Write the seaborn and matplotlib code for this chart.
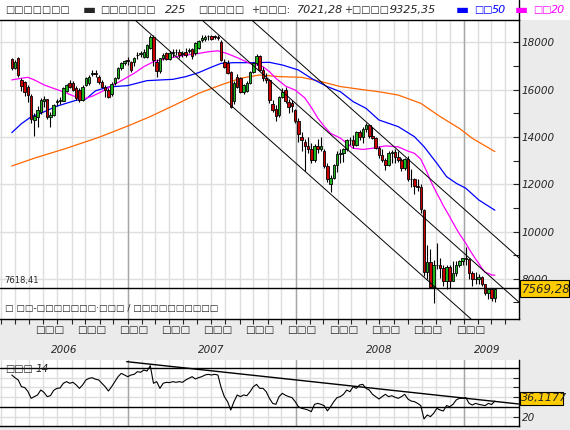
import numpy as np
import pandas as pd
import matplotlib
matplotlib.use("Agg")
import matplotlib.pyplot as plt
import matplotlib.dates as mdates
import matplotlib.transforms as mtransforms
from matplotlib.patches import Rectangle
from matplotlib.lines import Line2D
import seaborn as sns

# weekly candles, first one is the week starting Monday 2006-04-24
first_week = "2006-04-24"

opens = [17290, 16906, 17330, 16420, 16330, 16120, 15730, 14720, 14830, 15070,
         15500, 15590, 14845, 14940, 15480, 15530, 15533, 15950, 16266, 16266,
         16055, 15984, 15561, 16196, 16266, 16650, 16700, 16548, 16337, 16125,
         15984, 15800, 16266, 16477, 16900, 17111, 17250, 17182, 17182, 17450,
         17520, 17393, 17393, 17745, 18238, 17182, 16800, 17323, 17534, 17300,
         17540, 17600, 17604, 17500, 17604, 17650, 17703, 17534, 17745, 18100,
         18126, 18260, 18250, 18260, 18238, 18027, 17182, 17111, 16759, 15500,
         16548, 16477, 15914, 15950, 16266, 16759, 17111, 17421, 16830, 16477,
         16400, 15393, 15180, 14927, 15702, 16000, 15491, 15420, 15156, 14691,
         14000, 13800, 13629, 13497, 13017, 13622, 13500, 13400, 12782, 12000,
         12260, 12820, 13293, 13323, 13476, 13863, 13849, 13655, 14219, 14013,
         14338, 14489, 14051, 13942, 13544, 13237, 13039, 12803, 13334, 13376,
         13168, 13019, 12666, 13072, 12213, 12215, 11920, 11893, 10900, 8276,
         8693, 7649, 8577, 8583, 8462, 7910, 8512, 7917, 8235, 8588,
         8739, 8860, 8836, 8230, 7990, 7994, 8076, 7779, 7416, 7568,
         7173]
highs = [17340, 17250, 17380, 16500, 16380, 16200, 15800, 15000, 15300, 15630,
         15720, 15620, 15050, 15400, 15620, 15680, 16120, 16250, 16400, 16380,
         16150, 16050, 16200, 16550, 16600, 16850, 16820, 16620, 16400, 16200,
         16050, 16320, 16520, 16950, 17150, 17260, 17360, 17230, 17400, 17600,
         17650, 17700, 17950, 18300, 18300, 17300, 17350, 17550, 17600, 17650,
         17700, 17720, 17700, 17620, 17750, 17780, 17750, 18000, 18100, 18300,
         18297, 18320, 18320, 18330, 18300, 18100, 17300, 17250, 16800, 16350,
         16650, 16550, 16250, 16350, 16800, 17150, 17500, 17450, 16950, 16700,
         16450, 15550, 15350, 15750, 16055, 16100, 15600, 15560, 15200, 14800,
         14200, 13900, 14000, 13750, 13700, 13900, 14000, 13500, 12900, 12400,
         12850, 13400, 13500, 13550, 13900, 14000, 14100, 14250, 14300, 14400,
         14601, 14500, 14400, 14000, 13600, 13500, 13100, 13400, 13450, 13500,
         13400, 13100, 13100, 13200, 12650, 12250, 12200, 12000, 10950, 9447,
         9250, 8800, 9521, 8900, 8600, 8600, 8600, 8750, 8750, 8800,
         8900, 9325, 8900, 8350, 8300, 8200, 8100, 7800, 7600, 7600,
         7600]
lows = [16850, 16880, 16540, 15950, 15720, 15490, 14600, 14045, 14430, 14950,
        15250, 14750, 14437, 14880, 15300, 15400, 15500, 15880, 16050, 15950,
        15550, 15480, 15530, 16150, 16200, 16560, 16550, 16250, 16050, 15700,
        15650, 15720, 16200, 16450, 16850, 17050, 17050, 16750, 16980, 17280,
        17400, 17350, 17350, 17720, 17000, 16532, 16700, 17250, 17250, 17250,
        17400, 17450, 17350, 17380, 17400, 17550, 17300, 17480, 17700, 18000,
        18050, 18100, 18100, 18120, 18100, 17200, 16900, 16650, 15210, 15400,
        16050, 15850, 15800, 15900, 16250, 16700, 17050, 16800, 16350, 16300,
        15450, 15050, 14669, 14850, 15650, 15450, 15000, 15050, 14600, 13800,
        13400, 12573, 13300, 12900, 12950, 13300, 13400, 12700, 12100, 11691,
        12200, 12500, 12900, 12950, 13400, 13650, 13550, 13600, 13850, 13750,
        14200, 13950, 13900, 13500, 13100, 12950, 12600, 12750, 12900, 12900,
        12950, 12550, 12600, 12150, 11900, 11600, 11700, 10800, 8115, 8000,
        7600, 6995, 8400, 8050, 7700, 7550, 7600, 7900, 8100, 8500,
        8600, 8600, 8000, 7700, 7800, 7800, 7700, 7300, 7150, 7050,
        7021]
closes = [16906, 17153, 16601, 16150, 15920, 15780, 14750, 14880, 15140, 15560,
          15590, 14845, 14940, 15350, 15530, 15565, 16083, 16196, 16125, 15984,
          15632, 15561, 16125, 16477, 16548, 16689, 16680, 16337, 16125, 15984,
          15702, 16250, 16477, 16900, 17111, 17226, 17200, 16830, 17323, 17464,
          17534, 17604, 17886, 18238, 17252, 16800, 17323, 17480, 17300, 17550,
          17600, 17580, 17464, 17534, 17464, 17675, 17421, 17957, 18069, 18168,
          18238, 18267, 18140, 18238, 18200, 17252, 16970, 16689, 15280, 16300,
          16125, 15914, 16196, 16300, 16759, 17111, 17421, 16830, 16477, 16400,
          15561, 15139, 14900, 15702, 15914, 15514, 15250, 15307, 14691, 14110,
          13861, 13629, 13497, 13017, 13622, 13500, 13603, 12782, 12241, 12260,
          12820, 13293, 13323, 13476, 13863, 13849, 13655, 14219, 14013, 14338,
          14489, 14051, 13942, 13544, 13237, 13039, 12803, 13334, 13376, 13168,
          13019, 12666, 13072, 12213, 12215, 11920, 11893, 10938, 8276, 8693,
          7649, 8577, 8583, 8462, 7910, 8512, 7917, 8235, 8588, 8739,
          8860, 8836, 8230, 7990, 7994, 8076, 7779, 7416, 7568, 7173,
          7569]

# moving averages (week number, value)
ma20_wk = [0, 3, 5, 7, 10, 13, 16, 19, 22, 25, 28, 31, 34, 38, 41, 44, 47, 50, 54, 58,
           61, 64, 67, 70, 74, 78, 80, 82, 85, 88, 91, 93, 95, 97, 99, 102, 106, 109, 112, 116,
           120, 123, 125, 127, 128, 129, 130, 131, 132, 133, 134, 135, 136, 137, 138, 139, 140,
           141, 142, 143, 144, 145, 146, 147, 148, 149, 150]
ma20_val = [16410, 16480, 16520, 16410, 16200, 16050, 15910, 15740, 15590, 15720, 15920, 16150,
            16380, 16690, 16970, 17180, 17280, 17360, 17460, 17530, 17600, 17640, 17520, 17350,
            17110, 16970, 16760, 16480, 16150, 15980, 15650, 15250, 14800, 14450, 14150, 13950,
            13520, 13470, 13520, 13620, 13580, 13400, 13310, 13060, 12780, 12490, 12150, 11880,
            11610, 11360, 11090, 10860, 10620, 10370, 10130, 9900, 9700, 9500, 9260, 9050, 8840,
            8650, 8440, 8270, 8230, 8160, 8150]
ma50_wk = [0, 3, 6, 9, 14, 20, 23, 26, 30, 36, 42, 50, 54, 58, 62, 65, 69, 75, 80, 84,
           89, 93, 98, 102, 106, 110, 114, 120, 125, 128, 132, 135, 138, 141, 145, 150]
ma50_val = [14180, 14560, 14850, 15000, 15300, 15550, 15600, 15950, 16110, 16170, 16380, 16435,
            16548, 16717, 16950, 17111, 17139, 17139, 17154, 17041, 16830, 16477, 16125, 15914,
            15491, 15209, 14716, 14434, 14012, 13589, 12884, 12321, 12039, 11828, 11335, 10900]
ma_long_wk = [0, 7, 17, 27, 36, 43, 50, 58, 65, 71, 77, 83, 90, 96, 102, 110, 114, 120,
              127, 133, 139, 143, 150]
ma_long_val = [12770, 13100, 13520, 13980, 14460, 14860, 15310, 15840, 16200, 16480, 16620,
               16550, 16520, 16340, 16130, 15980, 15910, 15770, 15420, 14860, 14360, 13940, 13380]

rsi = [62.8, 60.0, 57.7, 50.8, 50.0, 46.0, 38.9, 40.6, 42.3, 47.4,
       45.0, 40.6, 41.6, 47.0, 49.1, 49.5, 54.3, 56.0, 54.3, 55.3,
       52.6, 49.1, 52.6, 57.7, 59.4, 60.0, 58.5, 57.7, 54.3, 50.8,
       46.4, 50.8, 56.0, 61.1, 64.5, 62.8, 61.1, 62.8, 63.5, 66.2,
       65.6, 67.9, 66.9, 72.4, 54.3, 56.0, 49.1, 54.3, 55.3, 55.0,
       56.0, 55.3, 56.0, 55.3, 57.7, 59.4, 61.1, 58.7, 60.1, 61.1,
       62.8, 63.5, 62.8, 63.5, 62.8, 50.0, 40.6, 35.5, 26.9, 35.5,
       42.3, 40.6, 42.3, 41.6, 45.7, 50.8, 53.2, 49.1, 49.1, 45.7,
       38.9, 33.7, 32.7, 40.6, 44.0, 42.0, 40.6, 39.6, 35.5, 30.3,
       28.6, 27.9, 26.9, 25.2, 32.7, 33.7, 32.7, 31.4, 26.0, 30.3,
       35.5, 39.6, 40.6, 43.0, 47.4, 45.7, 50.8, 49.1, 52.6, 53.2,
       49.1, 47.4, 43.0, 40.6, 38.2, 40.6, 43.0, 40.6, 41.6, 40.0,
       38.9, 40.6, 43.0, 38.2, 36.1, 35.5, 33.7, 31.4, 17.7, 21.8,
       20.1, 23.5, 28.6, 26.9, 25.9, 31.4, 30.3, 32.7, 37.2, 38.9,
       38.9, 39.6, 33.7, 32.0, 33.7, 32.7, 32.0, 31.4, 33.7, 32.5,
       36.1177]

# hand-drawn channel lines: (week, price) -> (week, price)
channel = [((74.5, 18943), (157.5, 8884)),
           ((38.25, 18943), (142.6, 6300)),
           ((59.06, 18943), (157.5, 7012))]
rsi_trend = ((35.7, 76.5), (157.3, 33.1))
level = 7618.41

GREEN = "#1fb51f"
RED = "#cc0000"
BG = "#ebebeb"
BOX = "\u25a1"  # the labels show up as empty boxes

sns.set_style("white")
plt.rcParams["font.family"] = ["DejaVu Sans"]

W, H = 570, 430
fig = plt.figure(figsize=(W / 100, H / 100), dpi=100, facecolor=BG)


def fx(px):
    return px / W


def fy(py):
    return 1 - py / H


def put(px, py, s, **kw):
    kw.setdefault("fontsize", 7)
    fig.text(fx(px), fy(py), s, va="center", ha="left", **kw)


fig.patches.append(Rectangle((0, fy(19.5)), 1, 1, transform=fig.transFigure,
                             fc="white", ec="none", zorder=-5))

ax = fig.add_axes([0, fy(319), fx(519), fy(19.5) - fy(319)])
rx = fig.add_axes([0, fy(425.5), fx(519), fy(360) - fy(425.5)])

week0 = pd.Timestamp(first_week)


def wk(w):
    return mdates.date2num(week0 + pd.to_timedelta(np.asarray(w, dtype=float) * 7, unit="D"))


xs = wk(np.arange(len(closes)))
o, h, l, c = map(np.array, (opens, highs, lows, closes))
xlim = (wk(-3.66), wk(157.5))

months = mdates.date2num(pd.date_range("2006-04-01", "2009-04-01", freq="MS"))
years = mdates.date2num(pd.to_datetime(["2007-01-01", "2008-01-01", "2009-01-01"]))

for a in (ax, rx):
    a.set_facecolor("white")
    for m in months:
        a.axvline(m, color="#dedede", lw=1, zorder=0)
    for yv in years:
        a.axvline(yv, color="#a6a6a6", lw=1, zorder=1)
    a.set_xlim(*xlim)

for v in range(8000, 19000, 2000):
    ax.axhline(v, color="#dedede", lw=1, zorder=0)

# moving averages
sns.lineplot(x=wk(ma_long_wk), y=ma_long_val, ax=ax, color="#ff6600", lw=0.9, zorder=2)
sns.lineplot(x=wk(ma50_wk), y=ma50_val, ax=ax, color="#0000ff", lw=0.9, zorder=2)
sns.lineplot(x=wk(ma20_wk), y=ma20_val, ax=ax, color="#ff00ff", lw=0.9, zorder=2)

# candles
up = c >= o
ax.vlines(xs, l, h, color="black", lw=0.8, zorder=3)
ax.bar(xs, np.maximum(np.abs(c - o), 20), bottom=np.minimum(o, c), width=5.5,
       color=np.where(up, GREEN, RED), edgecolor="black", linewidth=0.6, zorder=4)

for (w0, p0), (w1, p1) in channel:
    ax.plot(wk([w0, w1]), [p0, p1], color="black", lw=0.7, zorder=5)
ax.axhline(level, color="black", lw=1, zorder=5)

ax.set_ylim(6300, 18965)
ax.set_xlabel("")
ax.set_ylabel("")
ax.yaxis.tick_right()
ticks = np.arange(7000, 19000, 1000)
ax.set_yticks(ticks)
ax.set_yticklabels([str(t) if t % 2000 == 0 else "" for t in ticks],
                   fontstyle="italic", fontsize=7.5)
ax.tick_params(axis="y", direction="in", length=4, width=0.8, pad=2, right=True, left=False)
ax.set_xticks(months)
ax.tick_params(axis="x", direction="out", length=3.5, width=0.8, bottom=True, top=False,
               labelbottom=False)
for s in ("top", "bottom", "right"):
    ax.spines[s].set_color("black")
    ax.spines[s].set_linewidth(1)
ax.spines["left"].set_visible(False)

# RSI panel
sns.lineplot(x=xs, y=rsi, ax=rx, color="black", lw=0.8, zorder=3)
rx.plot(wk([rsi_trend[0][0], rsi_trend[1][0]]), [rsi_trend[0][1], rsi_trend[1][1]],
        color="black", lw=1, zorder=4)
for v in (20, 40, 50, 60):
    rx.axhline(v, color="#dedede", lw=1, zorder=0)
for v in (30, 70):
    rx.axhline(v, color="black", lw=1, zorder=2)
rx.set_ylim(11, 78.2)
rx.set_xlabel("")
rx.set_ylabel("")
rx.yaxis.tick_right()
rx.set_yticks([20, 40, 50, 60])
rx.set_yticklabels(["20", "", "", ""], fontstyle="italic", fontsize=7.5)
rx.tick_params(axis="y", direction="in", length=4, width=0.8, pad=2, right=True, left=False)
rx.set_xticks(months)
rx.tick_params(axis="x", length=0, labelbottom=False)
for s in ("top", "left"):
    rx.spines[s].set_visible(False)
for s in ("bottom", "right"):
    rx.spines[s].set_color("black")
    rx.spines[s].set_linewidth(1)

# month and year labels under the price panel
bt = mtransforms.blended_transform_factory(ax.transData, fig.transFigure)
label_months = pd.to_datetime(["2006-07-15", "2006-10-15", "2007-01-15", "2007-04-15",
                               "2007-07-15", "2007-10-15", "2008-01-15", "2008-04-15",
                               "2008-07-15", "2008-10-15", "2009-01-15"])
for d in mdates.date2num(label_months):
    fig.text(d, fy(330), BOX * 3, transform=bt, ha="center", va="center", fontsize=7.5)
year_pos = pd.to_datetime(["2006-08-15", "2007-07-02", "2008-07-01", "2009-02-20"])
for d, yr in zip(mdates.date2num(year_pos), ["2006", "2007", "2008", "2009"]):
    fig.text(d, fy(350), yr, transform=bt, ha="center", va="center", fontsize=7.5,
             fontstyle="italic")

# header
put(5, 10, BOX * 7)
put(83, 10, "\u25ac", fontsize=10)
put(100, 10, BOX * 6)
put(165, 10, "225", fontsize=8, fontstyle="italic")
put(198, 10, BOX * 5)
put(251, 10, "+" + BOX * 3 + ":")
put(297, 10, "7021,28", fontsize=8, fontstyle="italic")
put(344, 10, "+" + BOX * 4 + ":")
put(390, 10, "9325,35", fontsize=8, fontstyle="italic")
put(456, 10, "\u25ac", fontsize=10, color="#0000ff")
put(474, 10, BOX * 2, color="#0000ff")
put(492, 10, "50", fontsize=8, color="#0000ff", fontstyle="italic")
put(515, 10, "\u25ac", fontsize=10, color="#ff00ff")
put(533, 10, BOX * 2, color="#ff00ff")
put(551, 10, "20", fontsize=8, color="#ff00ff", fontstyle="italic")
fig.lines.append(Line2D([fx(519.3), fx(519.3)], [fy(0), fy(20)], transform=fig.transFigure,
                        color="black", lw=1))

# labels inside the panels
put(4, 280, "7618,41", fontsize=6)
put(5, 308, BOX + " " + BOX * 2 + "-" + BOX * 7 + "\u00b7" + BOX * 3 + " / " + BOX * 10,
    fontsize=6.5)
put(5, 369, BOX * 3)
put(35, 369, "14", fontsize=7.5, fontstyle="italic")

# value boxes on the right
fig.patches.append(Rectangle((fx(519.5), fy(297)), fx(49.5), fy(280) - fy(297),
                             transform=fig.transFigure, fc="#ffcc00", ec="black", lw=0.8, zorder=5))
put(522, 289, "7569,28", fontsize=8.5, fontstyle="italic", zorder=6)
fig.patches.append(Rectangle((fx(519.5), fy(404.5)), fx(43.5), fy(392) - fy(404.5),
                             transform=fig.transFigure, fc="#ffcc00", ec="black", lw=0.8, zorder=5))
put(521, 398.5, "36,1177", fontsize=8, fontstyle="italic", zorder=6)

fig.savefig("out.png", dpi=100, facecolor=BG)
